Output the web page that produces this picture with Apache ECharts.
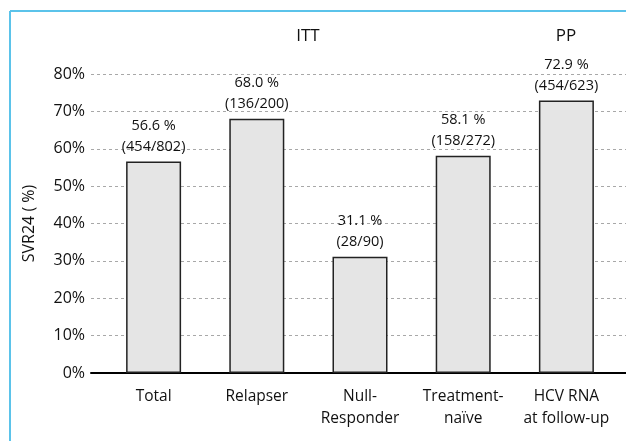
<!DOCTYPE html>
<html>
<head>
<meta charset="utf-8">
<script src="https://cdn.jsdelivr.net/npm/echarts@6/dist/echarts.min.js"></script>
<style>
  html, body { margin: 0; padding: 0; background: #fff; }
  #chart { width: 626px; height: 441px; }
</style>
</head>
<body>
<div id="chart"></div>
<script>
  // values
  const categories = ['Total', 'Relapser', 'Null-\nResponder', 'Treatment-\nnaïve', 'HCV RNA\nat follow-up'];
  const svr24 = [56.6, 68.0, 31.1, 58.1, 72.9];
  const responders = [454, 136, 28, 158, 454];
  const patients = [802, 200, 90, 272, 623];
  const yTicks = [0, 10, 20, 30, 40, 50, 60, 70, 80];

  const font = '"Open Sans", "Noto Sans", sans-serif';
  const ink = '#111';

  const chart = echarts.init(document.getElementById('chart'));
  chart.setOption({
    animation: false,
    textStyle: { fontFamily: font, color: ink },
    graphic: [
      { type: 'line', shape: { x1: 10, y1: 11, x2: 626, y2: 11 }, style: { stroke: '#5bc3ea', lineWidth: 2 } },
      { type: 'line', shape: { x1: 10, y1: 11, x2: 10, y2: 441 }, style: { stroke: '#5bc3ea', lineWidth: 2 } },
      { type: 'text', x: 308, y: 36, style: { text: 'ITT', font: '17px ' + font, fill: ink, textAlign: 'center', textVerticalAlign: 'middle', align: 'center', verticalAlign: 'middle' } },
      { type: 'text', x: 566, y: 36, style: { text: 'PP', font: '17px ' + font, fill: ink, textAlign: 'center', textVerticalAlign: 'middle', align: 'center', verticalAlign: 'middle' } }
    ],
    grid: [
      { left: 91, right: 0, top: 74, bottom: 68 },
      { left: 102, width: 516, top: 74, bottom: 68 }
    ],
    xAxis: [
      {
        gridIndex: 0, type: 'category', data: [''],
        axisLine: { lineStyle: { color: '#000', width: 2 } },
        axisTick: { show: false }, axisLabel: { show: false }
      },
      {
        gridIndex: 1, type: 'category', data: categories,
        axisLine: { show: false }, axisTick: { show: false },
        axisLabel: { interval: 0, fontSize: 15.5, lineHeight: 22, margin: 13, color: ink, fontFamily: font }
      }
    ],
    yAxis: [
      {
        gridIndex: 0, type: 'value', min: yTicks[0], max: yTicks[yTicks.length - 1], interval: 10,
        name: 'SVR24 ( %)', nameLocation: 'middle', nameGap: 54, nameRotate: 90,
        nameTextStyle: { fontSize: 16, color: ink, fontFamily: font },
        axisLine: { show: false }, axisTick: { show: false },
        axisLabel: { formatter: '{value}%', fontSize: 16, margin: 6, color: ink, fontFamily: font },
        splitLine: { lineStyle: { type: [3, 3], color: '#a8a8a8', width: 1 } }
      },
      {
        gridIndex: 1, type: 'value', min: yTicks[0], max: yTicks[yTicks.length - 1], interval: 10,
        show: false, splitLine: { show: false }
      }
    ],
    series: [
      {
        type: 'bar', xAxisIndex: 1, yAxisIndex: 1, barWidth: 55,
        data: svr24,
        itemStyle: { color: '#e5e5e5', borderColor: '#222', borderWidth: 1.5 },
        label: {
          show: true, position: 'top', distance: 4,
          fontSize: 14.5, lineHeight: 21, color: ink, fontFamily: font,
          formatter: (p) => svr24[p.dataIndex].toFixed(1) + ' %\n(' + responders[p.dataIndex] + '/' + patients[p.dataIndex] + ')'
        }
      }
    ]
  });
</script>
</body>
</html>
